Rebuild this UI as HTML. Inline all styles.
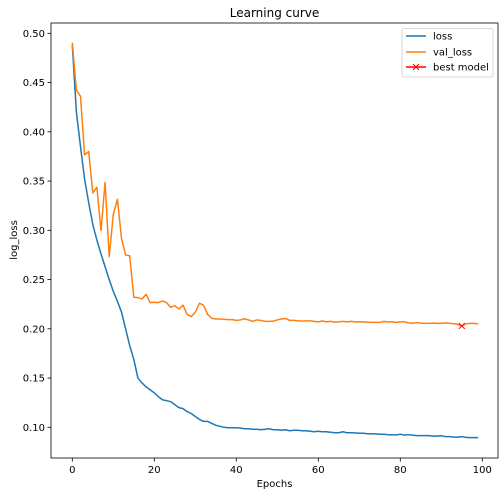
<!DOCTYPE html>
<html><head><meta charset="utf-8"><style>
html,body{margin:0;padding:0;background:#fff;}
svg text{font-family:"DejaVu Sans","Liberation Sans",sans-serif;fill:#000;}
</style></head><body>
<svg id="chart" width="504" height="496" xmlns="http://www.w3.org/2000/svg">
<rect width="504" height="496" fill="#fff"/>
<g id="plot"></g>
</svg>
<script>
const epochs = Array.from({length:100},(_, i)=>i);
const lossValues = [0.488,0.42,0.385,0.352,0.328,0.306,0.29,0.276,0.263,0.25,0.238,0.228,0.217,0.2,0.183,0.169,0.15,0.145,0.141,0.138,0.135,0.131,0.128,0.127,0.126,0.123,0.12,0.119,0.116,0.114,0.111,0.108,0.106,0.106,0.104,0.102,0.101,0.1,0.0995,0.0995,0.0995,0.0993,0.0985,0.0985,0.098,0.098,0.0975,0.098,0.0985,0.0975,0.0975,0.097,0.0975,0.0965,0.097,0.097,0.0965,0.0965,0.096,0.0955,0.096,0.0955,0.0955,0.095,0.0945,0.0945,0.0955,0.0945,0.0945,0.0943,0.094,0.094,0.0935,0.0935,0.0933,0.093,0.093,0.0925,0.0925,0.0922,0.093,0.092,0.0925,0.092,0.0915,0.0915,0.0915,0.0915,0.091,0.091,0.0915,0.0905,0.0905,0.09,0.09,0.0905,0.0898,0.0895,0.0895,0.0895];
const valLossValues = [0.4905,0.4425,0.436,0.3765,0.38,0.338,0.3437,0.2997,0.3487,0.2733,0.3162,0.3315,0.2919,0.275,0.274,0.232,0.2317,0.2303,0.235,0.2266,0.227,0.2266,0.2283,0.2266,0.2218,0.2235,0.22,0.224,0.2147,0.2124,0.2168,0.226,0.224,0.2147,0.2107,0.21,0.21,0.2097,0.2093,0.2093,0.2086,0.209,0.2102,0.209,0.2075,0.209,0.2085,0.2075,0.2075,0.2078,0.209,0.21,0.2105,0.2085,0.2085,0.2082,0.2078,0.208,0.208,0.2075,0.207,0.208,0.207,0.2075,0.2068,0.207,0.2075,0.207,0.2075,0.207,0.2072,0.207,0.2068,0.2065,0.2065,0.2065,0.2075,0.2068,0.2072,0.2065,0.207,0.207,0.206,0.2058,0.2062,0.2058,0.2055,0.2055,0.2058,0.2055,0.2055,0.206,0.2055,0.2053,0.2045,0.2029,0.205,0.2055,0.2055,0.205];
const bestEpoch = [95];
const bestValue = [0.2029];
const xTicks = [0,20,40,60,80,100];
const yTicks = [0.10,0.15,0.20,0.25,0.30,0.35,0.40,0.45,0.50];
const yTickLabels = ["0.10","0.15","0.20","0.25","0.30","0.35","0.40","0.45","0.50"];

const L=51,R=498,T=23,B=458;
const x = v => 72.3 + v*4.1;
const y = v => 33.3 + (0.5 - v)*985;
const NS="http://www.w3.org/2000/svg";
const g=document.getElementById('plot');
function mk(tag,attrs){const e=document.createElementNS(NS,tag);for(const k in attrs)e.setAttribute(k,attrs[k]);g.appendChild(e);return e;}

xTicks.forEach(t=>{
  const tk=mk('line',{x1:x(t),x2:x(t),y1:B,y2:B+3.5,stroke:'#000','stroke-width':0.8});
  
  
  const tl=mk('text',{x:x(t),y:B+15,'font-size':10,'text-anchor':'middle'});tl.textContent=t;
  
  
});
yTicks.forEach((t,i)=>{
  const tk=mk('line',{x1:L-3.5,x2:L,y1:y(t),y2:y(t),stroke:'#000','stroke-width':0.8});
  
  
  const tl=mk('text',{x:L-6,y:y(t)+3.5,'font-size':10,'text-anchor':'end'});tl.textContent=yTickLabels[i];
  
  
});
function pts(vals){return vals.map((v,i)=>x(epochs[i]).toFixed(2)+','+y(v).toFixed(2)).join(' ');}
const l1=mk('polyline',{points:pts(lossValues),fill:'none',stroke:'#1f77b4','stroke-width':1.5,'stroke-linejoin':'round'});


const l2=mk('polyline',{points:pts(valLossValues),fill:'none',stroke:'#ff7f0e','stroke-width':1.5,'stroke-linejoin':'round'});


const bx=x(bestEpoch[0]),by=y(bestValue[0]);
const bm=mk('path',{d:`M${bx-3},${by-3}L${bx+3},${by+3}M${bx-3},${by+3}L${bx+3},${by-3}`,stroke:'#ff0000','stroke-width':1});


const fr=mk('rect',{x:L,y:T,width:R-L,height:B-T,fill:'none',stroke:'#000','stroke-width':0.8});


const title=mk('text',{x:274.5,y:17,'font-size':12,'text-anchor':'middle'});title.textContent='Learning curve';


const xl=mk('text',{x:274.5,y:487,'font-size':10,'text-anchor':'middle'});xl.textContent='Epochs';


const yl=mk('text',{x:17,y:240,'font-size':10,'text-anchor':'middle',transform:'rotate(-90 17 240)'});yl.textContent='log_loss';


const lg=mk('rect',{x:402,y:28.5,width:91,height:48.5,rx:2,fill:'#fff','fill-opacity':0.8,stroke:'#ccc','stroke-width':0.8});


[['loss','#1f77b4',36],['val_loss','#ff7f0e',52],['best model','#ff0000',67]].forEach(([n,c,yy])=>{
  const ln=mk('line',{x1:406,x2:426,y1:yy,y2:yy,stroke:c,'stroke-width':1.5});
  
  
  if(n==='best model'){const m=mk('path',{d:`M413,${yy-3}L419,${yy+3}M413,${yy+3}L419,${yy-3}`,stroke:c,'stroke-width':1});
    
    }
  const t=mk('text',{x:433,y:yy+3.5,'font-size':10});t.textContent=n;
  
  
});
</script>
</body></html>
